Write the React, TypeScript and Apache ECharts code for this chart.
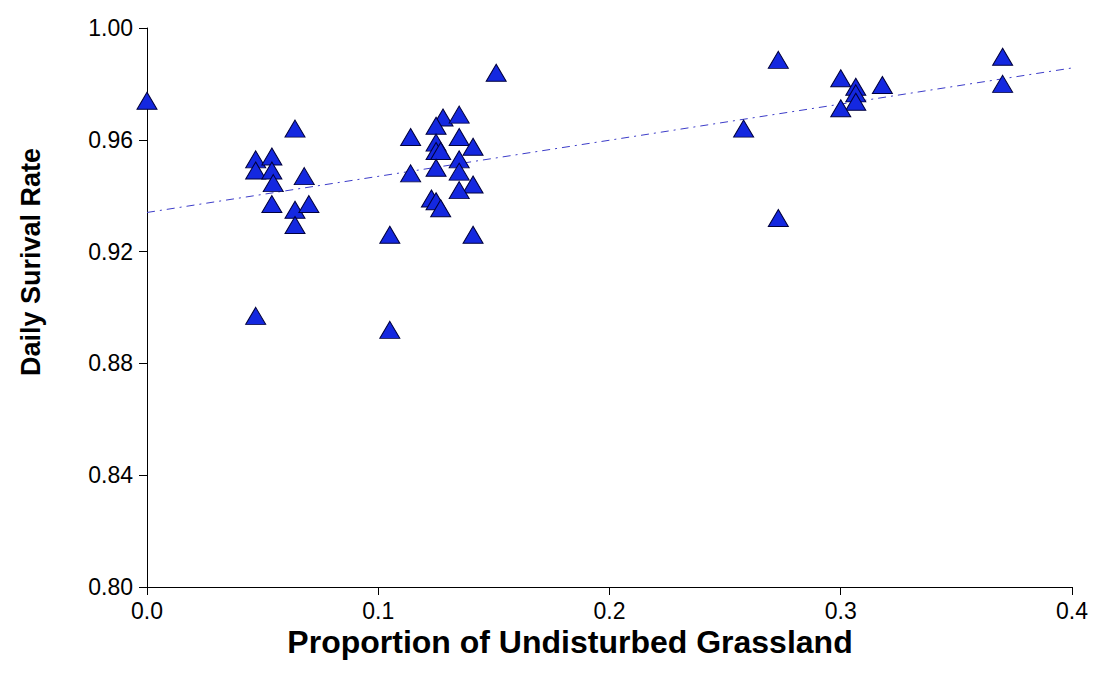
import React, { useEffect, useRef } from "react";
import * as echarts from "echarts";

const grassland: number[] = [
  0.0, 0.047, 0.047, 0.054, 0.054, 0.0546, 0.054, 0.064, 0.068, 0.064, 0.07, 0.064, 0.047,
  0.151, 0.128, 0.135, 0.125, 0.114, 0.135, 0.125, 0.141, 0.125, 0.127, 0.135, 0.125, 0.135,
  0.114, 0.141, 0.135, 0.123, 0.125, 0.127, 0.105, 0.141, 0.105,
  0.273, 0.3, 0.3065, 0.3065, 0.3065, 0.3, 0.318, 0.37, 0.37, 0.258, 0.273,
];
const survival: number[] = [
  0.974, 0.953, 0.949, 0.954, 0.949, 0.9445, 0.937, 0.964, 0.947, 0.935, 0.937, 0.9295, 0.897,
  0.984, 0.968, 0.969, 0.965, 0.961, 0.961, 0.959, 0.9575, 0.956, 0.956, 0.953, 0.95, 0.9486,
  0.948, 0.944, 0.942, 0.939, 0.938, 0.9355, 0.926, 0.926, 0.892,
  0.9886, 0.982, 0.979, 0.9766, 0.9736, 0.9713, 0.9796, 0.9897, 0.98, 0.964, 0.932,
];
const trendX: number[] = [0, 0.4];
const trendY: number[] = [0.934, 0.9857];
const xTicks = [0, 0.1, 0.2, 0.3, 0.4];
const yTicks = [0.8, 0.84, 0.88, 0.92, 0.96, 1.0];

export default function App() {
  const ref = useRef<HTMLDivElement>(null);
  useEffect(() => {
    if (!ref.current) return;
    const chart = echarts.init(ref.current, null, { renderer: "svg" });
    const points = grassland.map((x, i) => [x, survival[i]]);
    const trend = trendX.map((x, i) => [x, trendY[i]]);
    chart.setOption({
      animation: false,
      backgroundColor: "#ffffff",
      grid: { left: 147, right: 21, top: 28, bottom: 101 },
      xAxis: {
        type: "value",
        min: 0,
        max: 0.4,
        interval: 0.1,
        splitLine: { show: false },
        axisLine: { show: true, lineStyle: { color: "#000", width: 1 } },
        axisTick: { show: true, length: 8, lineStyle: { color: "#000" } },
        axisLabel: {
          margin: 12,
          fontFamily: "'Liberation Sans', Arial, sans-serif",
          fontSize: 23,
          color: "#000",
          formatter: (v: number) => (xTicks.some((t) => Math.abs(t - v) < 1e-9) ? v.toFixed(1) : ""),
        },
      },
      yAxis: {
        type: "value",
        min: 0.8,
        max: 1.0,
        interval: 0.04,
        splitLine: { show: false },
        axisLine: { show: true, lineStyle: { color: "#000", width: 1 } },
        axisTick: { show: true, length: 8, lineStyle: { color: "#000" } },
        axisLabel: {
          margin: 14,
          fontFamily: "'Liberation Sans', Arial, sans-serif",
          fontSize: 23,
          color: "#000",
          formatter: (v: number) => (yTicks.some((t) => Math.abs(t - v) < 1e-9) ? v.toFixed(2) : ""),
        },
      },
      graphic: [
        {
          type: "text",
          x: 570,
          y: 642,
          style: {
            text: "Proportion of Undisturbed Grassland",
            fontFamily: "'Liberation Sans', Arial, sans-serif",
            fontWeight: "bold",
            fontSize: 32,
            fill: "#000",
            align: "center",
            verticalAlign: "middle",
          },
        },
        {
          type: "text",
          x: 31,
          y: 262,
          rotation: Math.PI / 2,
          style: {
            text: "Daily Surival Rate",
            fontFamily: "'Liberation Sans', Arial, sans-serif",
            fontWeight: "bold",
            fontSize: 27,
            fill: "#000",
            align: "center",
            verticalAlign: "middle",
          },
        },
      ],
      series: [
        {
          type: "line",
          data: trend,
          symbol: "none",
          lineStyle: { color: "#3c3cc8", width: 1, type: [8, 5, 2, 5] },
          z: 1,
        },
        {
          type: "scatter",
          data: points,
          symbol: "triangle",
          symbolSize: [20, 17],
          itemStyle: { color: "#1428e0", borderColor: "#00003c", borderWidth: 1, opacity: 1 },
          z: 2,
        },
      ],
    });
    return () => chart.dispose();
  }, []);
  return (
    <div
      ref={ref}
      style={{ position: "fixed", left: 0, top: 0, width: 1093, height: 688, background: "#fff" }}
    />
  );
}
